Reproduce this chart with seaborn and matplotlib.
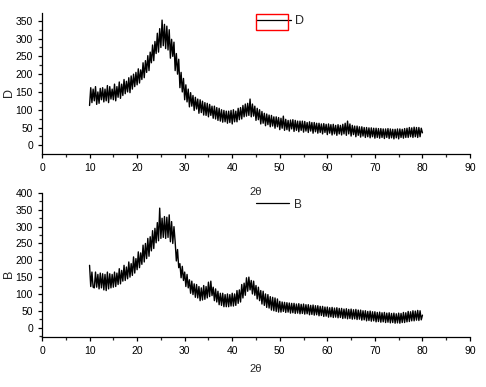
import numpy as np
import pandas as pd
import matplotlib
matplotlib.use("Agg")
import matplotlib.pyplot as plt
import seaborn as sns
from matplotlib.patches import Rectangle
from matplotlib.ticker import MultipleLocator

# 2-theta grid: 10 .. 80 step 0.25
two_theta = [10 + 0.25 * i for i in range(281)]

# Sample D intensities (4 values per degree)
intensity_D = [
    112, 162, 120, 158,   # 10
    125, 165, 115, 150,   # 11
    118, 160, 128, 162,   # 12
    122, 158, 125, 168,   # 13
    120, 165, 130, 158,   # 14
    128, 172, 125, 165,   # 15
    135, 178, 132, 172,   # 16
    140, 185, 145, 180,   # 17
    150, 190, 148, 195,   # 18
    158, 200, 165, 205,   # 19
    170, 215, 175, 212,   # 20
    185, 232, 190, 238,   # 21
    205, 252, 210, 262,   # 22
    232, 282, 238, 292,   # 23
    258, 315, 262, 328,   # 24
    275, 352, 280, 340,   # 25
    272, 335, 268, 325,   # 26
    245, 298, 250, 290,   # 27
    210, 258, 200, 242,   # 28
    162, 205, 150, 188,   # 29
    128, 170, 122, 158,   # 30
    108, 148, 110, 140,   # 31
    98, 135, 102, 130,    # 32
    90, 128, 92, 124,     # 33
    85, 120, 84, 118,     # 34
    80, 115, 84, 110,     # 35
    76, 110, 74, 106,     # 36
    70, 104, 68, 100,     # 37
    65, 98, 66, 96,       # 38
    62, 96, 64, 98,       # 39
    60, 100, 66, 96,      # 40
    66, 104, 72, 106,     # 41
    74, 112, 80, 116,     # 42
    82, 118, 84, 130,     # 43
    80, 116, 82, 110,     # 44
    70, 104, 72, 100,     # 45
    60, 95, 62, 90,       # 46
    55, 88, 58, 85,       # 47
    52, 84, 54, 80,       # 48
    48, 80, 52, 78,       # 49
    44, 76, 48, 82,       # 50
    42, 73, 44, 70,       # 51
    40, 71, 46, 72,       # 52
    39, 70, 42, 68,       # 53
    38, 68, 42, 68,       # 54
    37, 67, 40, 64,       # 55
    36, 66, 40, 64,       # 56
    34, 64, 38, 62,       # 57
    34, 62, 36, 60,       # 58
    32, 61, 36, 59,       # 59
    30, 60, 34, 58,       # 60
    29, 59, 32, 56,       # 61
    28, 58, 32, 56,       # 62
    29, 59, 32, 62,       # 63
    28, 68, 32, 60,       # 64
    26, 56, 30, 54,       # 65
    24, 54, 28, 52,       # 66
    23, 52, 26, 50,       # 67
    22, 50, 24, 49,       # 68
    21, 49, 24, 48,       # 69
    20, 48, 22, 47,       # 70
    20, 47, 22, 46,       # 71
    19, 46, 22, 47,       # 72
    19, 46, 21, 45,       # 73
    18, 45, 21, 46,       # 74
    18, 46, 22, 45,       # 75
    20, 47, 22, 48,       # 76
    22, 50, 24, 49,       # 77
    22, 51, 24, 50,       # 78
    22, 50, 24, 48,       # 79
    35,                   # 80
]

# Sample B intensities
intensity_B = [
    185, 122, 165, 120,   # 10
    118, 165, 120, 158,   # 11
    115, 162, 118, 160,   # 12
    112, 158, 110, 165,   # 13
    115, 160, 118, 158,   # 14
    120, 165, 122, 162,   # 15
    128, 175, 130, 170,   # 16
    138, 185, 140, 180,   # 17
    145, 195, 150, 190,   # 18
    155, 210, 162, 205,   # 19
    172, 225, 178, 222,   # 20
    188, 245, 195, 250,   # 21
    205, 265, 212, 270,   # 22
    228, 288, 235, 295,   # 23
    252, 312, 258, 355,   # 24
    265, 325, 268, 330,   # 25
    265, 328, 268, 335,   # 26
    255, 315, 250, 300,   # 27
    255, 198, 232, 178,   # 28
    190, 148, 182, 140,   # 29
    165, 122, 158, 118,   # 30
    142, 102, 138, 98,    # 31
    130, 90, 128, 88,     # 32
    122, 80, 118, 82,     # 33
    125, 84, 122, 88,     # 34
    135, 92, 138, 95,     # 35
    120, 80, 115, 76,     # 36
    108, 68, 102, 66,     # 37
    102, 62, 98, 62,      # 38
    100, 62, 98, 64,      # 39
    102, 64, 100, 66,     # 40
    110, 72, 112, 76,     # 41
    128, 88, 132, 96,     # 42
    148, 108, 150, 112,   # 43
    140, 100, 138, 96,    # 44
    125, 85, 120, 80,     # 45
    110, 70, 108, 66,     # 46
    100, 60, 98, 58,      # 47
    92, 52, 90, 50,       # 48
    88, 48, 85, 46,       # 49
    78, 46, 76, 48,       # 50
    75, 45, 74, 46,       # 51
    73, 43, 72, 44,       # 52
    72, 42, 70, 43,       # 53
    71, 41, 69, 42,       # 54
    70, 40, 68, 41,       # 55
    68, 38, 66, 39,       # 56
    67, 37, 65, 38,       # 57
    65, 35, 63, 36,       # 58
    63, 33, 61, 34,       # 59
    61, 31, 59, 32,       # 60
    60, 30, 58, 31,       # 61
    59, 29, 57, 30,       # 62
    57, 27, 55, 28,       # 63
    56, 26, 54, 27,       # 64
    55, 25, 53, 26,       # 65
    54, 24, 52, 25,       # 66
    52, 22, 50, 23,       # 67
    50, 20, 48, 21,       # 68
    49, 19, 47, 20,       # 69
    47, 17, 45, 18,       # 70
    46, 16, 44, 17,       # 71
    45, 15, 43, 16,       # 72
    44, 14, 42, 15,       # 73
    43, 13, 41, 14,       # 74
    43, 13, 42, 15,       # 75
    45, 15, 44, 17,       # 76
    48, 18, 47, 20,       # 77
    50, 20, 49, 22,       # 78
    51, 21, 50, 23,       # 79
    37,                   # 80
]

x_ticks = [0, 10, 20, 30, 40, 50, 60, 70, 80, 90]

sns.set_style("ticks")
plt.rcParams['font.family'] = ['Liberation Sans', 'DejaVu Sans']

W, H = 486, 387
fig = plt.figure(figsize=(W / 100, H / 100), dpi=100)

def px_rect(l, t, r, b):
    return [l / W, 1 - b / H, (r - l) / W, (b - t) / H]

ax1 = fig.add_axes(px_rect(42, 13, 470, 154))
ax2 = fig.add_axes(px_rect(42, 193, 470, 337))
ax1.patch.set_visible(False)
ax2.patch.set_visible(False)

dfD = pd.DataFrame({"2θ": two_theta, "D": intensity_D})
dfB = pd.DataFrame({"2θ": two_theta, "B": intensity_B})

sns.lineplot(data=dfD, x="2θ", y="D", ax=ax1, color="black", lw=1.0,
             estimator=None, label="D", legend=False)
sns.lineplot(data=dfB, x="2θ", y="B", ax=ax2, color="black", lw=1.0,
             estimator=None, label="B", legend=False)

for ax, ylim, ymaj, ylab_top in [(ax1, (-24.5, 372), 50, -0.235),
                                  (ax2, (-28, 400), 50, -0.1875)]:
    ax.set_xlim(0, 90)
    ax.set_ylim(*ylim)
    ax.set_xticks(x_ticks)
    ax.xaxis.set_minor_locator(MultipleLocator(5))
    ax.yaxis.set_major_locator(MultipleLocator(ymaj))
    ax.yaxis.set_minor_locator(MultipleLocator(25))
    for s in ["top", "right"]:
        ax.spines[s].set_visible(False)
    for s in ["left", "bottom"]:
        ax.spines[s].set_linewidth(0.9)
        ax.spines[s].set_color("black")
    ax.tick_params(which="major", length=3, width=0.9, labelsize=7.5,
                   pad=3.5, colors="black")
    ax.tick_params(which="minor", length=2.5, width=0.9)
    ax.set_xlabel("2θ", fontsize=8)
    ax.xaxis.set_label_coords(0.5, ylab_top)
    ax.xaxis.label.set_va("top")

ax1.set_ylabel("D", fontsize=9)
ax2.set_ylabel("B", fontsize=9)
ax1.yaxis.set_label_coords(-0.062, 0.436)
ax2.yaxis.set_label_coords(-0.062, 0.4375)

# legends
legD = ax1.legend(loc="center left", bbox_to_anchor=(256 / W, 1 - 21.5 / H),
                  bbox_transform=fig.transFigure, frameon=False, fontsize=9,
                  handlelength=2.8, handletextpad=0.3, borderpad=0,
                  borderaxespad=0)
legB = ax2.legend(loc="center left", bbox_to_anchor=(256 / W, 1 - 204.5 / H),
                  bbox_transform=fig.transFigure, frameon=False, fontsize=8.5,
                  handlelength=2.8, handletextpad=0.4, borderpad=0,
                  borderaxespad=0)
for leg in (legD, legB):
    for h in leg.get_lines():
        h.set_linewidth(0.9)

fig.patches.append(Rectangle((256 / W, 1 - 29.5 / H), 32 / W, 15.5 / H,
                             transform=fig.transFigure, fill=False,
                             edgecolor="red", lw=1.0))

fig.savefig("out.png", dpi=100)
